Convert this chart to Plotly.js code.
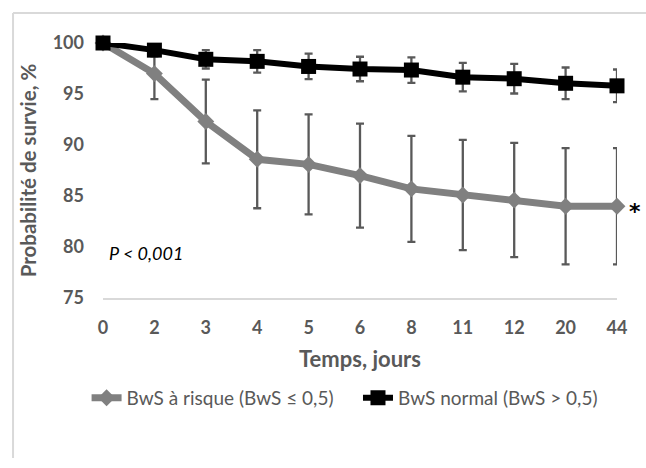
<!DOCTYPE html>
<html>
<head>
<meta charset="utf-8">
<script src="https://cdn.plot.ly/plotly-3.0.1.min.js"></script>
<style>html,body{margin:0;padding:0;background:#fff;}#chart{width:646px;height:468px;}</style>
</head>
<body>
<div id="chart"></div>
<script>
const days = ['0','2','3','4','5','6','8','11','12','20','44'];
const riskValues = [100, 97.0, 92.3, 88.6, 88.1, 87.0, 85.7, 85.1, 84.6, 84.0, 84.0];
const riskErrors = [0, 2.5, 4.1, 4.8, 4.9, 5.1, 5.2, 5.4, 5.6, 5.7, 5.7];
const normalValues = [100, 99.3, 98.4, 98.2, 97.7, 97.45, 97.35, 96.65, 96.5, 96.05, 95.8];
const normalErrors = [0, 0.6, 0.9, 1.1, 1.25, 1.2, 1.25, 1.4, 1.45, 1.55, 1.6];
const yTicks = [75, 80, 85, 90, 95, 100];
const seriesNames = ['BwS à risque (BwS ≤ 0,5)', 'BwS normal (BwS > 0,5)'];

const font = 'Lato, "Open Sans", sans-serif';
const legendPad = '\u00a0'.repeat(4);
const traces = [
  {
    x: days, y: riskValues, name: seriesNames[0] + legendPad, type: 'scatter', mode: 'lines+markers',
    line: {color: '#808080', width: 7},
    marker: {symbol: 'diamond', size: 13, color: '#808080'},
    error_y: {type: 'data', array: riskErrors, visible: true, color: '#595959', thickness: 2.3, width: 4},
    cliponaxis: false
  },
  {
    x: days, y: normalValues, name: seriesNames[1], type: 'scatter', mode: 'lines+markers',
    line: {color: '#000000', width: 6},
    marker: {symbol: 'square', size: 15, color: '#000000'},
    error_y: {type: 'data', array: normalErrors, visible: true, color: '#595959', thickness: 2.3, width: 4},
    cliponaxis: false
  }
];

const layout = {
  width: 646, height: 468,
  margin: {l: 103, r: 29, t: 43, b: 170},
  paper_bgcolor: '#ffffff', plot_bgcolor: '#ffffff',
  font: {family: font, color: '#595959'},
  showlegend: true,
  legend: {orientation: 'h', x: 0.47, xanchor: 'center', y: -0.392, yanchor: 'middle',
           font: {size: 19, color: '#595959', family: font}, traceorder: 'normal'},
  xaxis: {
    type: 'category', range: [0, 10], showgrid: false, zeroline: false,
    showline: true, linecolor: '#d9d9d9', linewidth: 2,
    ticks: '', ticklabelstandoff: 12,
    tickfont: {size: 18, color: '#595959', family: font, weight: 'bold'},
    title: {text: 'Temps, jours', font: {size: 22, color: '#595959', family: font, weight: 'bold'}, standoff: 15}
  },
  yaxis: {
    range: [75, 100], tickvals: yTicks, showgrid: false, zeroline: false, showline: false,
    ticks: '', ticklabelstandoff: 18,
    tickfont: {size: 18, color: '#595959', family: font, weight: 'bold'},
    title: {text: 'Probabilité de survie, %', font: {size: 20.5, color: '#595959', family: font, weight: 'bold'}, standoff: 10}
  },
  shapes: [
    {type: 'line', xref: 'paper', yref: 'paper', x0: -0.175, x1: 1.3, y0: 1.1176, y1: 1.1176,
     line: {color: '#d9d9d9', width: 2}, layer: 'below'},
    {type: 'line', xref: 'paper', yref: 'paper', x0: -0.175, x1: -0.175, y0: -0.627, y1: 1.1176,
     line: {color: '#d9d9d9', width: 2}, layer: 'below'}
  ],
  annotations: [
    {xref: 'paper', yref: 'paper', x: 0.008, y: 0.175, xanchor: 'left', yanchor: 'middle',
     text: '<i>P &lt; 0,001</i>', showarrow: false, font: {size: 18, color: '#000000', family: font}},
    {xref: 'paper', yref: 'y', x: 1, y: riskValues[riskValues.length - 1], xanchor: 'center', yanchor: 'middle',
     xshift: 18, yshift: -5, text: '*', showarrow: false,
     font: {size: 22, color: '#000000', family: '"DejaVu Sans", sans-serif', weight: 'bold'}}
  ]
};

Plotly.newPlot('chart', traces, layout, {displayModeBar: false, staticPlot: true});
</script>
</body>
</html>
